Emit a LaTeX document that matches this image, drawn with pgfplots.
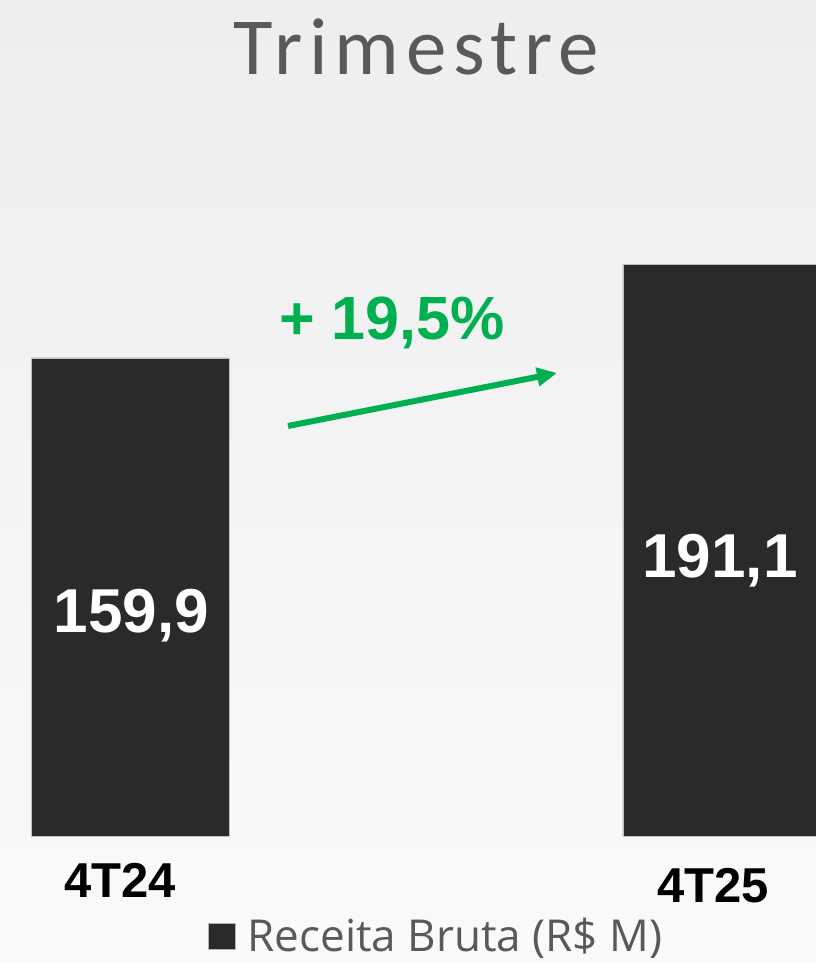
\documentclass[border=0pt]{standalone}
\usepackage{pgfplots}
\pgfplotsset{compat=1.18}
\usepackage{pgfplotstable}
\usetikzlibrary{arrows.meta}
\usepackage{fontspec}
\setmainfont{Liberation Sans}
\newfontfamily\titlefont[LetterSpace=8.3]{Carlito}
\newfontfamily\legfont{Open Sans}
\definecolor{bgtop}{HTML}{EEEEEE}
\definecolor{bgbot}{HTML}{FAFAFA}
\definecolor{barcol}{HTML}{2A2A2A}
\definecolor{titlegray}{HTML}{595959}
\definecolor{upgreen}{HTML}{00B050}
\pgfplotstableread{
x y
0 159.9
1 191.1
}\receita
\begin{document}
\begin{tikzpicture}
\shade[top color=bgtop, bottom color=bgbot] (0pt,0pt) rectangle (816pt,962pt);
\begin{axis}[
  at={(0pt,126pt)}, anchor=south west,
  scale only axis, width=816pt, height=747.5pt,
  xmin=-0.2206, xmax=1.1597, ymin=0, ymax=250,
  hide axis, clip=false,
  ybar, bar width=197.3pt,
  legend image code/.code={\fill[barcol, draw=gray!60, line width=0.6pt] (0pt,-13pt) rectangle (27pt,13pt);},
  legend style={draw=none, fill=none, at={(0.2549,-0.1338)}, anchor=west,
    font=\legfont\fontsize{44}{44}\selectfont, text=titlegray, inner sep=0pt,
    /tikz/every odd column/.append style={column sep=10pt}},
]
\addplot[fill=barcol, draw=gray!50, line width=0.6pt] table {\receita};
\addlegendentry{Receita Bruta (R\$ M)}
\end{axis}
\node[anchor=base, inner sep=0pt, text=titlegray, font=\titlefont\fontsize{81}{81}\selectfont] at (416pt,887pt) {Trimestre};
\node[anchor=base, inner sep=0pt, text=white, font=\fontsize{62}{62}\selectfont\bfseries] at (131.5pt,329pt) {159,9};
\node[anchor=base, inner sep=0pt, text=white, font=\fontsize{62}{62}\selectfont\bfseries] at (720pt,384pt) {191,1};
\node[anchor=base, inner sep=0pt, text=black, font=\fontsize{49}{49}\selectfont\bfseries] at (120pt,64pt) {4T24};
\node[anchor=base, inner sep=0pt, text=black, font=\fontsize{49}{49}\selectfont\bfseries] at (713pt,59pt) {4T25};
\node[anchor=base west, inner sep=0pt, text=upgreen, font=\fontsize{61}{61}\selectfont\bfseries] at (279pt,622pt) {+ 19,5\%};
\draw[upgreen, line width=6pt, -{Triangle[length=20pt,width=18pt]}] (288pt,536pt) -- (557pt,589pt);
\pgfresetboundingbox
\path (0pt,0pt) rectangle (816pt,962pt);
\end{tikzpicture}
\end{document}
